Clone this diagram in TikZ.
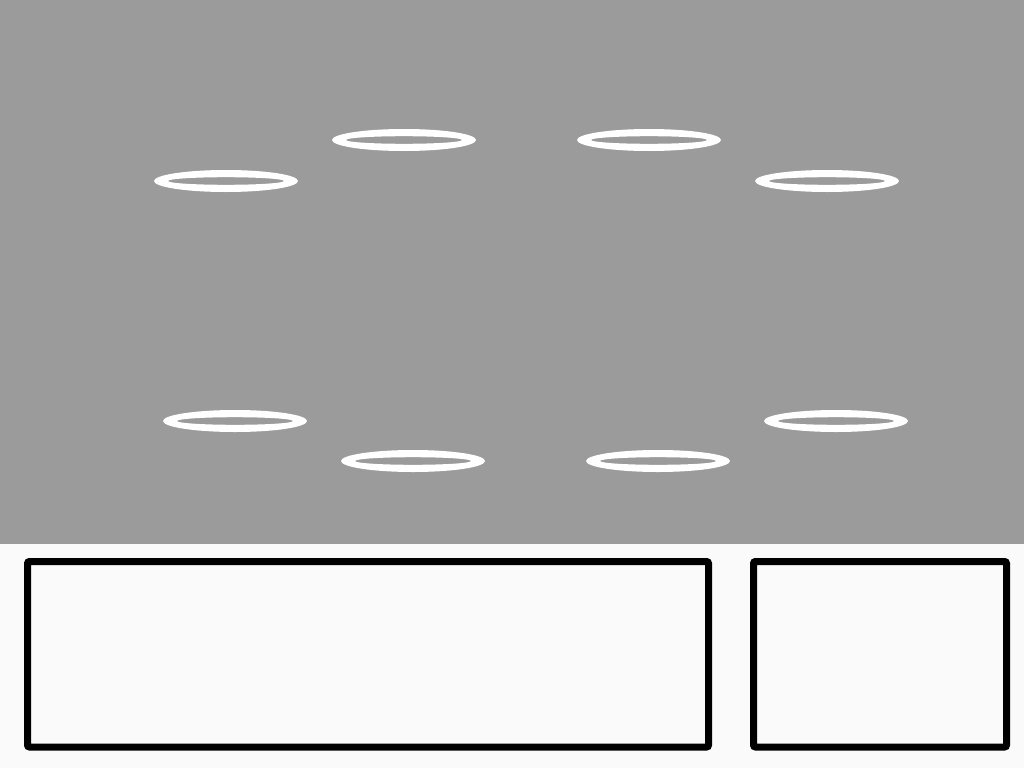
\documentclass[tikz,border=0pt]{standalone}
\definecolor{backgray}{RGB}{155,155,155}
\definecolor{paper}{RGB}{250,250,250}
\tikzset{
    ring/.style={fill=white, even odd rule},
    panel/.style={draw=black, line width=7pt, rounded corners=2pt, fill=paper}
}
\begin{document}
\begin{tikzpicture}[x=1pt,y=-1pt]
            \useasboundingbox (0,0) rectangle (1024,768);
            \fill[paper] (0,0) rectangle (1024,768);
            \fill[backgray] (0,0) rectangle (1024,544);
            \fill[ring] (226,181) ellipse (72 and 11) (226,181) ellipse (58 and 3.8);
            \fill[ring] (404,140) ellipse (72 and 11) (404,140) ellipse (58 and 3.8);
            \fill[ring] (649,140) ellipse (72 and 11) (649,140) ellipse (58 and 3.8);
            \fill[ring] (827,181) ellipse (72 and 11) (827,181) ellipse (58 and 3.8);
            \fill[ring] (235,421) ellipse (72 and 11) (235,421) ellipse (58 and 3.8);
            \fill[ring] (413,461) ellipse (72 and 11) (413,461) ellipse (58 and 3.8);
            \fill[ring] (658,461) ellipse (72 and 11) (658,461) ellipse (58 and 3.8);
            \fill[ring] (836,421) ellipse (72 and 11) (836,421) ellipse (58 and 3.8);
            \draw[panel] (27.5,561.5) rectangle (708.5,747);
            \draw[panel] (753.5,561.5) rectangle (1006.5,747);
        \end{tikzpicture}
\end{document}
